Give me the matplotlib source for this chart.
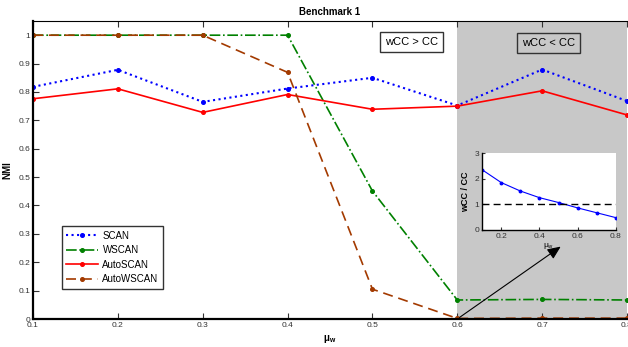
import matplotlib
matplotlib.use("Agg")
import matplotlib.pyplot as plt
import numpy as np

mu = [0.1, 0.2, 0.3, 0.4, 0.5, 0.6, 0.7, 0.8]
scan = [0.818, 0.878, 0.765, 0.812, 0.850, 0.752, 0.879, 0.768]
wscan = [1.0, 1.0, 1.0, 1.0, 0.451, 0.067, 0.069, 0.067]
autoscan = [0.776, 0.811, 0.728, 0.791, 0.739, 0.750, 0.804, 0.719]
autowscan = [1.0, 1.0, 1.0, 0.869, 0.105, 0.002, 0.003, 0.003]
ratio = [2.35, 1.85, 1.52, 1.26, 1.07, 0.86, 0.67, 0.48]

plt.rcParams['font.family'] = ['Liberation Sans', 'DejaVu Sans']

fig = plt.figure(figsize=(6.28, 3.47), dpi=100)
ax = fig.add_axes([33/628, 28/347, 594/628, 298/347])

ax.axvspan(0.6, 0.8, color='#c8c8c8', zorder=0, lw=0)

ax.plot(mu, scan, color='#0000ff', ls=':', lw=1.5, marker='o', ms=2.6, label='SCAN')
ax.plot(mu, wscan, color='#008000', ls='-.', lw=1.2, marker='o', ms=2.6, label='WSCAN')
ax.plot(mu, autoscan, color='#ff0000', ls='-', lw=1.2, marker='o', ms=2.6, label='AutoSCAN')
ax.plot(mu, autowscan, color='#a33a00', ls='--', lw=1.2, marker='o', ms=2.6, dashes=(6, 3.5), label='AutoWSCAN')

ax.set_xlim(0.1, 0.8)
ax.set_ylim(0, 1.05)
ax.set_xticks([0.1, 0.2, 0.3, 0.4, 0.5, 0.6, 0.7, 0.8])
ax.set_xticklabels(['0.1', '0.2', '0.3', '0.4', '0.5', '0.6', '0.7', '0.8'])
ax.set_yticks([0, 0.1, 0.2, 0.3, 0.4, 0.5, 0.6, 0.7, 0.8, 0.9, 1])
ax.set_yticklabels(['0', '0.1', '0.2', '0.3', '0.4', '0.5', '0.6', '0.7', '0.8', '0.9', '1'])
ax.tick_params(direction='in', labelsize=6, length=4, top=True, right=False, pad=2, colors='#333333')
for s in ['left', 'bottom']:
    ax.spines[s].set_linewidth(1.6)
ax.spines['top'].set_linewidth(0.8)
ax.spines['right'].set_visible(False)

ax.set_title('Benchmark 1', fontsize=7, fontweight='bold', pad=4)
ax.set_xlabel(r'$\mathregular{\mu_w}$', fontsize=7, fontweight='bold', labelpad=3)
ax.set_ylabel('NMI', fontsize=7, fontweight='bold', labelpad=4)

leg = ax.legend(loc='lower left', bbox_to_anchor=(0.04, 0.085), fontsize=7, frameon=True,
                fancybox=False, edgecolor='black', handlelength=3.2, borderpad=0.5,
                labelspacing=0.45, handletextpad=0.5)
leg.get_frame().set_linewidth(1.0)

ax.text(0.5465, 0.975, 'wCC > CC', fontsize=8, ha='center', va='center',
        bbox=dict(boxstyle='square,pad=0.45', fc='white', ec='#333333', lw=1))
ax.text(0.708, 0.973, 'wCC < CC', fontsize=8, ha='center', va='center',
        bbox=dict(boxstyle='square,pad=0.45', fc='#c8c8c8', ec='#333333', lw=1))

ins = fig.add_axes([482/628, 117/347, 134/628, 77/347])
ins.plot(mu, ratio, color='#0000ff', lw=0.8, marker='o', ms=1.8)
ins.axhline(1, color='black', ls='--', lw=1, dashes=(5, 3))
ins.set_xlim(0.1, 0.8)
ins.set_ylim(0, 3)
ins.set_xticks([0.2, 0.4, 0.6, 0.8])
ins.set_xticklabels(['0.2', '0.4', '0.6', '0.8'])
ins.set_yticks([0, 1, 2, 3])
ins.tick_params(direction='in', labelsize=6, length=2, pad=2, colors='#333333')
for s in ['left', 'bottom']:
    ins.spines[s].set_linewidth(1.0)
ins.spines['top'].set_visible(False)
ins.spines['right'].set_visible(False)
ins.set_xlabel(r'$\mathregular{\mu_w}$', fontsize=6, labelpad=1)
ins.set_ylabel('wCC / CC', fontsize=6.5, fontweight='bold', labelpad=3)

ax.annotate('', xy=(563/628, (347-245)/347), xycoords='figure fraction',
            xytext=(0.6, 0.0), textcoords='data',
            arrowprops=dict(arrowstyle='-|>,head_length=0.8,head_width=0.35', color='black', lw=0.8),
            annotation_clip=False)

fig.savefig('out.png', dpi=100)
